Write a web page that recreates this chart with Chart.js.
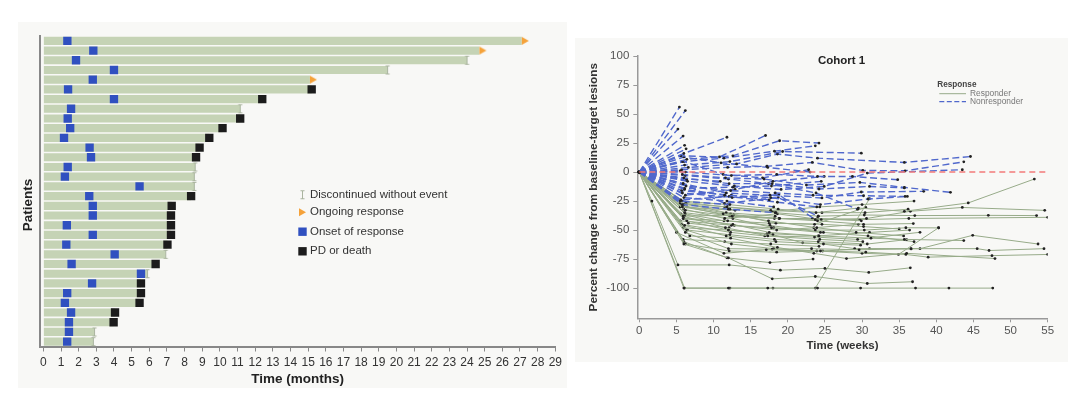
<!DOCTYPE html>
<html><head><meta charset="utf-8">
<script src="https://cdn.jsdelivr.net/npm/chart.js@4.4.1/dist/chart.umd.min.js"></script>
<style>
html,body{margin:0;padding:0;background:#fff;width:1080px;height:393px;overflow:hidden}
#w1{position:absolute;left:18px;top:22px;width:549px;height:366px;background:#f8f8f6}
#w2{position:absolute;left:575px;top:38px;width:493px;height:324px;background:#f8f8f6}
canvas{display:block}
</style></head><body>
<div id="w1"><canvas id="c1" width="549" height="366"></canvas></div>
<div id="w2"><canvas id="c2" width="493" height="324"></canvas></div>
<script>
// ================= Swimmer plot data =================
const patients = ['1','2','3','4','5','6','7','8','9','10','11','12','13','14','15','16','17','18','19','20','21','22','23','24','25','26','27','28','29','30','31','32'];
const durations = [27.1,24.7,24.0,19.5,15.1,15.2,12.4,11.15,11.15,10.15,9.4,8.85,8.65,8.6,8.55,8.55,8.37,7.27,7.23,7.23,7.23,7.03,6.93,6.36,5.9,5.53,5.53,5.45,4.06,3.98,2.9,2.83];
const onsetTimes = [1.36,2.83,1.85,4.0,2.8,1.4,4.0,1.57,1.38,1.52,1.17,2.62,2.7,1.38,1.22,5.45,2.6,2.8,2.8,1.33,2.8,1.3,4.04,1.6,5.53,2.76,1.35,1.22,1.57,1.45,1.45,1.35];
// O = ongoing response, D = discontinued without event, P = PD or death
const endEvents = ['O','O','D','D','O','P','P','D','P','P','P','P','P','D','D','D','P','P','P','P','P','P','D','P','D','P','P','P','P','P','D','D'];
const monthTicks = [0,1,2,3,4,5,6,7,8,9,10,11,12,13,14,15,16,17,18,19,20,21,22,23,24,25,26,27,28,29];
const swimLegend = ['Discontinued without event','Ongoing response','Onset of response','PD or death'];

// ================= Spider plot data (week, % change) =================
const weekTicks = [0,5,10,15,20,25,30,35,40,45,50,55];
const pctTicks = [-100,-75,-50,-25,0,25,50,75,100];
const nonresponderLines = [
  [[0,0],[5.4,56]],
  [[0,0],[6.2,53]],
  [[0,0],[5.2,37]],
  [[0,0],[5.9,31]],
  [[0,0],[6.1,23]],
  [[0,0],[6.3,20]],
  [[0,0],[6.0,16],[11.8,30]],
  [[0,0],[5.6,14],[10.8,13],[17,31.5]],
  [[0,0],[6.4,11],[12.6,14],[18.9,27],[24.2,25]],
  [[0,0],[5.8,9],[11.4,12],[18.2,18],[23.7,22.6]],
  [[0,0],[6.1,6],[12.2,9],[19.3,17.7],[29.9,16.3]],
  [[0,0],[6.6,4],[13.1,7],[18.6,15.5],[24,12],[35.7,8.3],[44.6,13.4]],
  [[0,0],[5.7,2],[11.9,4],[17.2,5],[23.3,8.3],[30.1,1.4],[35.8,1.1],[43.7,8.8]],
  [[0,0],[6.2,0],[12.4,-3],[18.5,-2],[24,-3.8],[28.7,-3.8],[34.8,-6.6]],
  [[0,0],[5.8,-2],[11.6,-5],[16.8,-6],[22.5,-11.2],[29.7,-8.9],[35.7,-13.2],[41.9,-17.5]],
  [[0,0],[6.0,-5],[12.1,-10],[17.9,-10],[24.2,-14.6],[31,-12.4],[35.7,-13.7]],
  [[0,0],[6.5,-8],[12.8,-12],[19.1,-15],[24.9,-12.4],[30.7,-0.9],[43.5,2]],
  [[0,0],[5.9,-10],[11.7,-18],[17.6,-20],[24.6,-22.3],[29.9,-17.2],[38.3,-16.6]],
  [[0,0],[6.3,-12],[12.3,-16],[18.3,-18],[23.4,-20],[30.2,-20.4],[35.8,-21]],
  [[0,0],[6.1,-15],[11.5,-20],[17.7,-22],[24.4,-28],[30.8,-23.2],[36.1,-21]],
  [[0,0],[5.8,-18],[12.5,-22],[18.8,-19.5],[23.7,-41]],
  [[0,0],[6.2,-3],[12,-6],[17.4,-10],[23.8,-18],[29.4,-32]],
  [[0,0],[6.0,-22],[11.8,-25],[18.1,-30]],
  [[0,0],[5.5,-25],[12.2,-28]],
  [[0,0],[6.4,-6],[10.9,-8]],
  [[0,0],[6.1,-14],[12.6,-13],[17.8,-12],[24.5,-8]],
  [[0,0],[5.8,-28],[12,-32],[18.4,-35]],
  [[0,0],[6.2,-20],[12.9,-15],[18,-8],[24.9,-3.8]],
  [[0,0],[5.9,-10],[11.5,-27],[18.7,-22],[24.1,-38]],
  [[0,0],[6.0,9],[11.3,-2],[16.6,-5],[22.8,2]],
  [[0,0],[5.5,1]],
  [[0,0],[6.3,-7]],
  [[0,0],[5.7,-16],[12.4,-20],[17.5,-24]],
  [[0,0],[6.0,13],[11,8],[17.3,4],[23,0]],
  [[0,0],[5.6,-24],[12.1,-21],[18.6,-26],[23.9,-30]]
];
const responderLines = [
  [[0,0],[1.7,-25],[5.2,-80],[12.1,-80],[19,-84.5],[25,-83],[30.9,-86.5],[36.5,-82.5]],
  [[0,0],[6,-100],[12,-100],[17.3,-100],[24,-100],[29.8,-100],[37.2,-100],[41.7,-100],[47.6,-100]],
  [[0,0],[6.1,-100],[12.2,-100],[18,-100],[23.7,-100],[31,-23]],
  [[0,0],[6,-62],[12,-74],[17.9,-92],[23.7,-90],[30.7,-96],[36.8,-94.5]],
  [[0,0],[5,-52],[11.4,-70],[17.1,-67],[24.4,-68],[30.5,-69],[35.9,-71],[38.9,-73.3],[47.5,-72],[55,-71]],
  [[0,0],[6.2,-52],[12,-66],[17.9,-66.5],[23.2,-66],[29.6,-67],[36.6,-66],[45.5,-66],[47.1,-67.6],[54.5,-66]],
  [[0,0],[6.1,-46],[11.7,-55],[18.4,-60],[24.8,-62],[29,-66],[37.8,-66],[44.9,-54.5],[53.7,-62]],
  [[0,0],[6.8,-55],[12.3,-57],[18.6,-65],[23.5,-70],[27.9,-74.5],[36,-70],[47.9,-74.5]],
  [[0,0],[5.9,-40],[12.6,-45],[17.5,-52],[24.2,-55],[31.2,-57],[35.7,-58],[43.7,-59]],
  [[0,0],[5.8,-30],[11.3,-36],[18.9,-40],[24,-42],[30.2,-45],[36.9,-44.4]],
  [[0,0],[6.3,-50],[12.4,-62],[18.1,-66],[23.9,-68],[30,-70],[34.9,-71],[40.3,-48]],
  [[0,0],[6,-28],[12.2,-32],[18.3,-35],[24.1,-38],[30.3,-37],[37.1,-37.5],[47,-37.3],[53.5,-37.5]],
  [[0,0],[5.5,-27],[11.8,-30],[17.7,-33],[23.8,-35],[29.5,-31],[35.7,-33.8],[44.3,-26.6],[53.2,-6]],
  [[0,0],[6.2,-33],[12.5,-38],[18.2,-40],[24.5,-41],[30.6,-40],[36.5,-33.8],[43.5,-30.5],[54.6,-33]],
  [[0,0],[5.9,-38],[11.6,-48],[17.3,-55],[23.6,-56],[29.4,-58],[37.8,-51.9]],
  [[0,0],[6.2,-62],[12.1,-68],[18.5,-69],[24.7,-68],[31,-66],[36.6,-66.2]],
  [[0,0],[6,-60],[11.8,-73.9],[17.6,-78],[23.4,-75]],
  [[0,0],[5.7,-45],[12.3,-52],[16.9,-55],[24.3,-58],[30.1,-60]],
  [[0,0],[6.4,-42],[12,-50],[18,-54],[22,-61],[29.8,-63]],
  [[0,0],[5.8,-25],[11.9,-28],[18.7,-32],[24.6,-35],[30.4,-35],[36.2,-32]],
  [[0,0],[6.1,-38],[12.7,-37],[17.4,-42],[23.9,-48],[29.2,-52],[35.6,-55]],
  [[0,0],[6.5,-50],[12.2,-54],[18.2,-58],[24.1,-60],[30.7,-62],[36,-58.2]],
  [[0,0],[6,-32],[11.5,-40],[18.6,-36],[23.3,-40],[29.9,-42]],
  [[0,0],[5.6,-36],[12.4,-46],[17.8,-48],[24.4,-52]],
  [[0,0],[6.3,-27],[11.7,-35],[18.3,-38]],
  [[0,0],[5.5,-30],[12.9,-33]],
  [[0,0],[6.6,-44],[12.1,-48]],
  [[0,0],[5.9,-58],[11.5,-60],[17.7,-62],[24.2,-64]],
  [[0,0],[6.1,-35],[12.6,-40],[18.1,-48],[23.7,-50],[30.3,-50],[35.9,-48],[40.3,-48.1]],
  [[0,0],[6.2,-26],[11.5,-30],[17.9,-34],[24.3,-30],[30,-28],[37,-25]],
  [[0,0],[5.8,-29],[12.3,-36],[18.4,-44],[23.6,-45],[30.5,-30.5]],
  [[0,0],[6,-40],[11.9,-42],[17.6,-46],[24.8,-52],[30.8,-55],[37,-60]],
  [[0,0],[6.4,-30],[12.2,-38],[18.8,-40],[24,-40],[29.7,-41],[36.3,-40],[55,-39]],
  [[0,0],[5.9,-48],[12,-50],[17.2,-53],[24.1,-55],[31,-52],[36.4,-50]],
  [[0,0],[5.5,-42],[12.8,-46],[18.5,-50],[23.5,-48],[29.5,-45]],
  [[0,0],[6.2,-36],[11.4,-42],[17.5,-44],[24.6,-45],[30.2,-47],[35,-49]]
];
const spiderLegend = ['Responder','Nonresponder'];

// ================= Styles =================
const FONT = "'Liberation Sans', Arial, Helvetica, sans-serif";
const BAR = '#c5d3b5', BLUE = '#3050c0', BLACK = '#1c1c1c', ORANGE = '#f5a23a', DISC = '#aab49f';
const GREEN_LINE = '#97ab89', BLUE_LINE = '#5068cc';

function makeDisc(){
  const c = document.createElement('canvas'); c.width = 7; c.height = 11;
  const x = c.getContext('2d'); x.strokeStyle = DISC; x.lineWidth = 1;
  x.beginPath(); x.moveTo(3.5,1); x.lineTo(3.5,10);
  x.moveTo(1.5,1.5); x.lineTo(5.5,1.5); x.moveTo(1.5,9.5); x.lineTo(5.5,9.5); x.stroke();
  return c;
}
function makeArrow(){
  const c = document.createElement('canvas'); c.width = 20; c.height = 10;
  const x = c.getContext('2d'); x.fillStyle = ORANGE;
  x.beginPath(); x.moveTo(10,1); x.lineTo(10,9); x.lineTo(17,5); x.closePath(); x.fill();
  return c;
}
const discImg = makeDisc(), arrowImg = makeArrow();

function markerData(code){
  const out = [];
  durations.forEach((d,i)=>{ if (endEvents[i] === code) out.push({x:d, y:patients[i]}); });
  return out;
}

const swimOverlay = {
  id:'swimOverlay',
  afterDraw(chart){
    const ctx = chart.ctx; ctx.save();
    const rows = [172.7,190.3,209.7,229.3];
    ctx.drawImage(discImg, 284.5 - discImg.width/2, rows[0] - discImg.height/2);
    ctx.fillStyle = ORANGE; ctx.beginPath();
    ctx.moveTo(281,rows[1]-4); ctx.lineTo(281,rows[1]+4); ctx.lineTo(288,rows[1]); ctx.closePath(); ctx.fill();
    ctx.fillStyle = BLUE; ctx.fillRect(280.3, rows[2]-4.2, 8.4, 8.4);
    ctx.fillStyle = BLACK; ctx.fillRect(280.3, rows[3]-4.2, 8.4, 8.4);
    ctx.font = '11.5px ' + FONT; ctx.fillStyle = '#333'; ctx.textBaseline = 'middle'; ctx.textAlign = 'left';
    swimLegend.forEach((t,i)=>ctx.fillText(t, 292, rows[i]));
    // y-axis title
    ctx.translate(10.5, 183); ctx.rotate(-Math.PI/2);
    ctx.font = 'bold 13.5px ' + FONT; ctx.fillStyle = '#222'; ctx.textAlign = 'center';
    ctx.fillText('Patients', 0, 0);
    ctx.restore();
  }
};

new Chart(document.getElementById('c1'), {
  type:'bar',
  data:{
    labels: patients,
    datasets:[
      {type:'bar', indexAxis:'y', data:durations, backgroundColor:BAR, borderWidth:0, barPercentage:0.84, categoryPercentage:1, order:10},
      {type:'scatter', data:markerData('D'), pointStyle:discImg, order:3},
      {type:'scatter', data:markerData('O'), pointStyle:arrowImg, order:2},
      {type:'scatter', data:onsetTimes.map((t,i)=>({x:t, y:patients[i]})), pointStyle:'rect', pointRadius:5.9, backgroundColor:BLUE, borderColor:BLUE, borderWidth:0, order:1},
      {type:'scatter', data:markerData('P'), pointStyle:'rect', pointRadius:5.9, backgroundColor:BLACK, borderColor:BLACK, borderWidth:0, order:0}
    ]
  },
  options:{
    responsive:false, animation:false,
    layout:{padding:{top:14, right:11.7, left:0, bottom:0}},
    plugins:{legend:{display:false}, tooltip:{enabled:false}},
    scales:{
      x:{type:'linear', min:-0.19, max:29, offset:false,
         afterBuildTicks:s=>{ s.ticks = monthTicks.map(v=>({value:v})); },
         afterFit:s=>{ s.height = 41.5; },
         grid:{display:true, offset:false, drawOnChartArea:false, drawTicks:true, tickLength:5, color:'#888'},
         border:{display:true, color:'#888', width:2},
         ticks:{color:'#333', font:{family:FONT, size:12}, padding:4, maxRotation:0, autoSkip:false},
         title:{display:true, text:'Time (months)', color:'#222', font:{family:FONT, size:13.5, weight:'bold'}, padding:{top:0, bottom:1}}},
      y:{type:'category', labels:patients, offset:true,
         afterFit:s=>{ s.width = 22; },
         grid:{display:false},
         border:{display:true, color:'#888', width:2},
         ticks:{display:false},
         title:{display:false}}
    }
  },
  plugins:[swimOverlay]
});

// ================= Spider plot =================
const spiderOverlay = {
  id:'spiderOverlay',
  afterDraw(chart){
    const ctx = chart.ctx; ctx.save();
    ctx.textBaseline = 'middle';
    ctx.font = 'bold 11.5px ' + FONT; ctx.fillStyle = '#222'; ctx.textAlign = 'center';
    ctx.fillText('Cohort 1', 266.6, 22.7);
    ctx.textAlign = 'left';
    ctx.font = 'bold 8.2px ' + FONT; ctx.fillStyle = '#444';
    ctx.fillText('Response', 362.3, 46.3);
    ctx.strokeStyle = GREEN_LINE; ctx.lineWidth = 1; ctx.setLineDash([]);
    ctx.beginPath(); ctx.moveTo(364.3, 55.7); ctx.lineTo(391, 55.7); ctx.stroke();
    ctx.strokeStyle = BLUE_LINE; ctx.lineWidth = 1.3; ctx.setLineDash([5,2.5]);
    ctx.beginPath(); ctx.moveTo(364.3, 63.7); ctx.lineTo(391, 63.7); ctx.stroke();
    ctx.setLineDash([]);
    ctx.font = '8.4px ' + FONT; ctx.fillStyle = '#777';
    ctx.fillText(spiderLegend[0], 395, 55.7);
    ctx.fillText(spiderLegend[1], 395, 63.7);
    ctx.restore();
  }
};

const toPts = line => line.map(([x,y])=>({x,y}));
const spiderSets = [];
spiderSets.push({data:[{x:0,y:0},{x:55,y:0}], showLine:true, borderColor:'#f27a7a', borderWidth:1.6, borderDash:[6,4], pointRadius:0, order:0});
nonresponderLines.forEach(l=>spiderSets.push({data:toPts(l), showLine:true, borderColor:BLUE_LINE, borderWidth:1.4, borderDash:[7,3.5], pointRadius:1.4, pointBackgroundColor:'#222', pointBorderWidth:0, order:1}));
responderLines.forEach(l=>spiderSets.push({data:toPts(l), showLine:true, borderColor:GREEN_LINE, borderWidth:1, pointRadius:1.4, pointBackgroundColor:'#222', pointBorderWidth:0, order:2}));

new Chart(document.getElementById('c2'), {
  type:'scatter',
  data:{datasets:spiderSets},
  options:{
    responsive:false, animation:false,
    layout:{padding:{top:18, right:20.3, left:0, bottom:0}},
    plugins:{legend:{display:false}, tooltip:{enabled:false}},
    scales:{
      x:{type:'linear', min:-0.27, max:55,
         afterBuildTicks:s=>{ s.ticks = weekTicks.map(v=>({value:v})); },
         afterFit:s=>{ s.height = 43.7; },
         grid:{display:true, drawOnChartArea:false, drawTicks:true, tickLength:4, color:'#999'},
         border:{display:true, color:'#999', width:1.5},
         ticks:{color:'#555', font:{family:FONT, size:11.5}, padding:2, maxRotation:0, autoSkip:false},
         title:{display:true, text:'Time (weeks)', color:'#333', font:{family:FONT, size:11.5, weight:'bold'}, padding:{top:0, bottom:9.1}}},
      y:{type:'linear', min:-126, max:100,
         afterBuildTicks:s=>{ s.ticks = pctTicks.map(v=>({value:v})); },
         afterFit:s=>{ s.width = 62.3; },
         grid:{display:true, drawOnChartArea:false, drawTicks:true, tickLength:4, color:'#999'},
         border:{display:true, color:'#999', width:1.5},
         ticks:{color:'#555', font:{family:FONT, size:11.5}, padding:4},
         title:{display:true, text:'Percent change from baseline-target lesions', color:'#333', font:{family:FONT, size:11.8, weight:'bold'}, padding:{top:11.9, bottom:0}}}
    }
  },
  plugins:[spiderOverlay]
});
</script>
</body></html>
